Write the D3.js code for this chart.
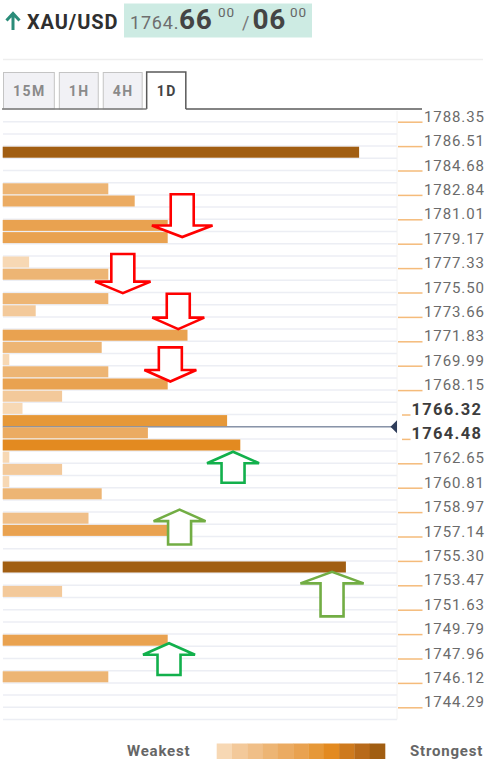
<!DOCTYPE html>
<meta charset="utf-8">
<title>XAU/USD confluence</title>
<style>
body { margin: 0; background: #fff; }
svg { display: block; font-family: Roboto, Arial, sans-serif; }
.tick-label { font-size: 15px; fill: #6b6b6b; letter-spacing: 0.9px; }
.tick-label.near { font-size: 16.5px; font-weight: bold; fill: #3d3d3d; letter-spacing: 1.3px; }
.tab text { font-size: 14px; font-weight: bold; letter-spacing: 1.5px; }
.legend-label { font-size: 15px; font-weight: bold; fill: #666; letter-spacing: 0.8px; }
</style>
<body>
<script src="https://d3js.org/d3.v7.min.js"></script>
<script>

// ---- data ----
var symbol = "XAU/USD";
var priceBase = "1764.",
    bidPips = "66",
    askPips = "06",
    pipFraction = "00";

var tabLabels = ["15M", "1H", "4H", "1D"];
var activeTab = "1D";

// price labels on the right, one every second row
var tickLabels = ["1788.35", "1786.51", "1784.68", "1782.84", "1781.01", "1779.17",
  "1777.33", "1775.50", "1773.66", "1771.83", "1769.99", "1768.15", "1766.32",
  "1764.48", "1762.65", "1760.81", "1758.97", "1757.14", "1755.30", "1753.47",
  "1751.63", "1749.79", "1747.96", "1746.12", "1744.29"];

// rows (from the top) that hold a confluence bar, and how strong it is
var barRows     = [2, 5, 6, 8, 9, 11, 12, 14, 15, 17, 18, 19, 20, 21, 22, 23, 24, 25, 26, 27, 28, 29, 30, 32, 33, 36, 38, 42, 45];
var barStrength = [54, 16, 20, 25, 25, 4, 16, 16, 5, 28, 15, 1, 16, 25, 9, 3, 34, 22, 36, 1, 9, 1, 15, 13, 25, 52, 9, 25, 16];

var currentRow = 25;   // where the current price sits

var strengthColors = ["#f7d8b4", "#f3c99a", "#f0bf88", "#edb574", "#ebab62", "#e9a250",
  "#e69838", "#e38a20", "#ce7a1e", "#b86a1a", "#a15e12"];

// arrows: x in strength units, from/to in rows
var resistanceX    = [27.2, 18.2, 26.6, 25.4];
var resistanceFrom = [5.95, 10.85, 14.1, 18.5];
var resistanceTo   = [9.45, 14.05, 17.0, 21.3];

var supportX    = [34.9, 26.8, 49.9, 25.2];
var supportFrom = [29.6, 34.65, 40.55, 45.35];
var supportTo   = [27.05, 31.8, 36.9, 42.75];
var supportKind = ["strong", "weak", "weak", "strong"];

// ---- layout ----
var W = 490, H = 769;
var svg = d3.select("body").append("svg")
    .attr("width", W)
    .attr("height", H);

var x = d3.scaleLinear().domain([0, 60]).range([2.7, 398.7]);
var y = d3.scaleLinear().domain([0, 48]).range([121.7, 707.3]);
var rowH = y(1) - y(0);
var color = d3.scaleQuantize().domain([0, 55]).range(strengthColors);
var plotRight = 397;
var arrowColor = {down: "#ff0000", strong: "#12b04c", weak: "#72ad44"};

// ---- header ----
var head = svg.append("g");
head.append("path")
    .attr("d", "M13,30 L13,14 M6.5,20.5 L13,13.5 L19.5,20.5")
    .attr("fill", "none")
    .attr("stroke", "#2a8c79")
    .attr("stroke-width", 3);
head.append("text")
    .attr("x", 27).attr("y", 29)
    .style("font-size", "20px").style("font-weight", "bold")
    .style("letter-spacing", "0.9px")
    .attr("fill", "#2f2f2f")
    .text(symbol);
head.append("rect")
    .attr("x", 124).attr("y", 3.5)
    .attr("width", 188).attr("height", 34)
    .attr("fill", "#cdebe3");
var quote = [
  {t: priceBase, x: 130, y: 28.5, size: 18, bold: false, fill: "#6e6e6e"},
  {t: bidPips, x: 179, y: 29, size: 28, bold: true, fill: "#444"},
  {t: pipFraction, x: 218, y: 17, size: 13.5, bold: false, fill: "#666"},
  {t: "/", x: 242, y: 29, size: 18, bold: false, fill: "#777"},
  {t: askPips, x: 252.5, y: 29, size: 28, bold: true, fill: "#444"},
  {t: pipFraction, x: 290, y: 17, size: 13.5, bold: false, fill: "#666"}
];
head.selectAll(".q")
    .data(quote)
  .enter().append("text")
    .attr("x", function(d) { return d.x; })
    .attr("y", function(d) { return d.y; })
    .style("font-size", function(d) { return d.size + "px"; })
    .style("font-weight", function(d) { return d.bold ? "bold" : "normal"; })
    .style("letter-spacing", "0.8px")
    .attr("fill", function(d) { return d.fill; })
    .text(function(d) { return d.t; });

// separator
svg.append("line")
    .attr("x1", 3).attr("x2", 483)
    .attr("y1", 59.5).attr("y2", 59.5)
    .attr("stroke", "#eeeeee").attr("stroke-width", 1.5);

// ---- tabs ----
var tabTop = 72, tabBottom = 109;
var tabG = svg.append("g");
var tx = 3, activeRight = 0, activeLeft = 0;
tabLabels.forEach(function(lbl) {
  var active = lbl === activeTab;
  var g = tabG.append("g").attr("class", "tab");
  var txt = g.append("text")
      .attr("y", 95.5)
      .attr("fill", active ? "#444" : "#8a8a8a")
      .text(lbl);
  var w = txt.node().getComputedTextLength() + 19;
  txt.attr("x", tx + 10);
  if (active) {
    g.insert("path", "text")
        .attr("d", "M" + tx + "," + tabBottom + " L" + tx + "," + tabTop +
                   " L" + (tx + w) + "," + tabTop + " L" + (tx + w) + "," + tabBottom)
        .attr("fill", "#fff")
        .attr("stroke", "#5a5a5a")
        .attr("stroke-width", 1.5);
    activeLeft = tx; activeRight = tx + w;
  } else {
    g.insert("rect", "text")
        .attr("x", tx + 0.5).attr("y", tabTop + 0.5)
        .attr("width", w - 1).attr("height", tabBottom - tabTop - 0.5)
        .attr("fill", "#f1f1f5")
        .attr("stroke", "#c4c4c4");
  }
  tx += w + 4;
});
tabG.append("line")
    .attr("x1", 2).attr("x2", activeLeft)
    .attr("y1", tabBottom).attr("y2", tabBottom)
    .attr("stroke", "#7a7a7a").attr("stroke-width", 1.5);
tabG.append("line")
    .attr("x1", activeRight).attr("x2", 422)
    .attr("y1", tabBottom).attr("y2", tabBottom)
    .attr("stroke", "#5a5a5a").attr("stroke-width", 1.5);

// ---- grid rows ----
svg.append("g").selectAll("line")
    .data(d3.range(0, 50))
  .enter().append("line")
    .attr("x1", 3).attr("x2", plotRight)
    .attr("y1", function(d) { return y(d); })
    .attr("y2", function(d) { return y(d); })
    .attr("stroke", "#eceef4")
    .attr("stroke-width", 1.5);
svg.append("line")
    .attr("x1", plotRight).attr("x2", plotRight)
    .attr("y1", 111).attr("y2", y(49))
    .attr("stroke", "#f2f2f2");

// current price line (behind the bars)
var py = y(currentRow);
svg.append("line")
    .attr("x1", x(0)).attr("x2", plotRight - 4)
    .attr("y1", py).attr("y2", py)
    .attr("stroke", "#8994a8").attr("stroke-width", 1.5);
svg.append("path")
    .attr("d", "M390.5," + py + " L397," + (py - 6.5) + " L397," + (py + 6.5) + " Z")
    .attr("fill", "#2f3d5a");

// ---- bars ----
var bars = barRows.map(function(r, i) { return {row: r, value: barStrength[i]}; });
svg.append("g").selectAll("rect")
    .data(bars)
  .enter().append("rect")
    .attr("x", x(0))
    .attr("y", function(d) { return y(d.row) + 0.6; })
    .attr("height", rowH - 1.2)
    .attr("width", function(d) { return x(d.value) - x(0); })
    .attr("fill", function(d) { return color(d.value); });

// ---- arrows ----
function arrowPath(cx, y0, y1, hw, sw, hl) {
  var dir = y1 > y0 ? 1 : -1;
  var yb = y1 - dir * hl;
  return "M" + (cx - sw / 2) + "," + y0 +
    " L" + (cx + sw / 2) + "," + y0 +
    " L" + (cx + sw / 2) + "," + yb +
    " L" + (cx + hw / 2) + "," + yb +
    " L" + cx + "," + y1 +
    " L" + (cx - hw / 2) + "," + yb +
    " L" + (cx - sw / 2) + "," + yb + " Z";
}
var arrows = resistanceX.map(function(v, i) {
  return {x: v, from: resistanceFrom[i], to: resistanceTo[i], kind: "down"};
}).concat(supportX.map(function(v, i) {
  return {x: v, from: supportFrom[i], to: supportTo[i], kind: supportKind[i]};
}));
svg.append("g").selectAll("path")
    .data(arrows)
  .enter().append("path")
    .attr("d", function(d) {
      var len = Math.abs(y(d.to) - y(d.from));
      return arrowPath(x(d.x), y(d.from), y(d.to), Math.max(52, len * 1.42), 23, 11.5);
    })
    .attr("fill", "#fff")
    .attr("stroke", function(d) { return arrowColor[d.kind]; })
    .attr("stroke-width", 2.6)
    .attr("stroke-linejoin", "miter");

// ---- price axis on the right ----
function nearPrice(i) { return Math.abs(i * 2 - currentRow) <= 1; }
var ticks = svg.append("g").selectAll("g")
    .data(tickLabels)
  .enter().append("g")
    .attr("transform", function(d, i) { return "translate(0," + y(i * 2) + ")"; });
ticks.append("line")
    .attr("x1", function(d, i) { return nearPrice(i) ? 402 : 398; })
    .attr("x2", function(d, i) { return nearPrice(i) ? 410.5 : 422.5; })
    .attr("y1", 0.5).attr("y2", 0.5)
    .attr("stroke", "#f5bb7a").attr("stroke-width", 1.5);
ticks.append("text")
    .attr("class", function(d, i) { return nearPrice(i) ? "tick-label near" : "tick-label"; })
    .attr("x", function(d, i) { return nearPrice(i) ? 411.5 : 424; })
    .attr("y", 0)
    .text(function(d) { return d; });

// ---- legend ----
var legX = d3.scaleBand().domain(d3.range(strengthColors.length)).range([216.7, 385]);
svg.append("g").selectAll("rect")
    .data(strengthColors)
  .enter().append("rect")
    .attr("x", function(d, i) { return legX(i); })
    .attr("y", 743.5)
    .attr("width", legX.bandwidth() + 0.3)
    .attr("height", 15.5)
    .attr("fill", function(d) { return d; });
svg.append("text").attr("class", "legend-label")
    .attr("x", 127).attr("y", 755.5).text("Weakest");
svg.append("text").attr("class", "legend-label")
    .attr("x", 410).attr("y", 755.5).text("Strongest");

</script>
</body>
